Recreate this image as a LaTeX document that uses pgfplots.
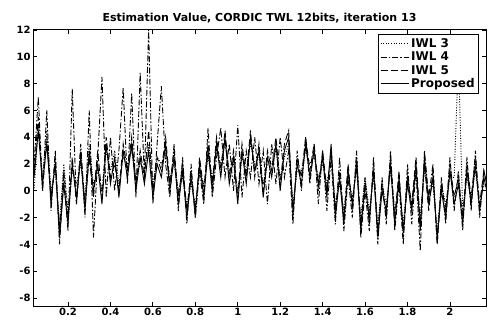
\documentclass[border=0pt]{standalone}
\usepackage{fontspec}
\setmainfont{DejaVu Sans}
\usepackage{pgfplots}
\pgfplotsset{compat=1.18}
\usepackage{pgfplotstable}
\pgfplotstableread{
x a b c d
0.04 0.0 2.0 1.5 1.0
0.06 5.0 7.0 5.5 4.5
0.08 1.0 0.0 0.0 0.5
0.10 4.5 6.0 4.0 3.5
0.12 0.0 -1.5 -1.0 -0.5
0.14 1.5 3.0 2.5 2.0
0.16 -2.5 -4.0 -3.0 -3.5
0.18 2.0 1.0 1.5 0.5
0.20 -1.5 -3.0 -2.0 -2.5
0.22 1.5 7.6 2.5 2.0
0.24 0.5 -1.0 -1.0 -0.5
0.26 2.0 3.5 3.0 2.5
0.28 -0.5 -2.0 -1.0 -1.5
0.30 3.5 6.0 2.5 3.0
0.32 0.5 -3.5 -0.5 0.0
0.34 1.5 2.5 3.0 2.0
0.36 0.0 8.5 -0.5 -1.0
0.38 3.0 -0.5 4.0 3.5
0.40 1.5 4.0 1.0 0.5
0.42 3.0 0.0 2.0 2.5
0.44 0.5 3.0 0.0 -0.5
0.46 2.5 7.7 3.5 3.0
0.48 2.0 0.5 1.5 1.0
0.50 3.0 7.3 4.0 3.5
0.52 1.0 -0.5 0.5 0.0
0.54 2.0 8.8 3.0 2.5
0.56 1.5 1.0 1.0 0.5
0.58 3.5 12.0 4.5 3.0
0.60 0.5 -1.0 0.0 -0.5
0.62 2.5 3.5 2.5 2.0
0.64 2.0 7.8 1.5 1.0
0.66 3.0 2.0 4.0 3.5
0.68 1.0 -0.5 0.5 0.0
0.70 2.0 3.5 3.0 2.5
0.72 0.0 -1.5 -0.5 -1.0
0.74 1.0 2.5 2.0 1.5
0.76 -1.0 -2.5 -1.5 -2.0
0.78 0.5 2.0 1.5 1.0
0.80 -1.0 -2.0 -2.0 -1.5
0.82 1.5 1.5 2.5 2.0
0.84 0.5 -1.0 0.0 -0.5
0.86 2.5 4.7 3.5 3.0
0.88 1.0 -0.5 0.5 0.0
0.90 3.0 2.5 4.0 3.5
0.92 2.0 4.7 1.5 1.0
0.94 3.5 1.0 4.5 4.0
0.96 1.5 3.5 1.0 0.5
0.98 2.0 0.0 3.0 2.5
1.00 0.0 4.9 -0.5 -1.0
1.02 2.5 -0.5 3.5 3.0
1.04 1.5 3.0 1.0 0.5
1.06 3.5 1.0 4.5 4.0
1.08 2.0 4.0 1.0 1.5
1.10 2.5 0.5 3.5 3.0
1.12 0.5 3.0 0.0 -0.5
1.14 2.0 -1.0 3.0 2.5
1.16 2.0 3.5 1.5 1.0
1.18 3.0 0.5 4.0 3.5
1.20 1.0 4.0 0.5 0.0
1.22 2.5 1.0 3.5 3.0
1.24 3.5 3.0 4.5 4.0
1.26 -1.0 -2.5 -2.0 -1.5
1.28 1.5 3.0 2.5 2.0
1.30 1.5 0.0 1.0 0.5
1.32 3.0 4.0 4.0 3.5
1.34 2.0 0.5 1.5 1.0
1.36 2.5 3.5 3.5 3.0
1.38 1.0 -1.0 0.0 0.5
1.40 2.0 3.0 3.0 2.5
1.42 0.5 -1.5 0.0 -0.5
1.44 2.5 2.5 3.0 3.5
1.46 -1.0 -2.5 -1.5 -2.0
1.48 0.5 2.5 1.5 1.0
1.50 -1.5 -3.0 -2.0 -2.5
1.52 1.0 1.0 2.0 1.5
1.54 -0.5 -2.0 -1.5 -1.0
1.56 1.5 3.0 2.5 2.0
1.58 -2.0 -3.5 -2.5 -3.0
1.60 1.0 0.0 1.0 0.5
1.62 -1.5 -3.0 -2.5 -2.0
1.64 1.0 2.5 2.0 1.5
1.66 -2.5 -4.0 -3.0 -3.5
1.68 0.5 1.0 0.5 0.0
1.70 -1.0 -2.5 -2.0 -1.5
1.72 1.5 3.0 2.5 2.0
1.74 -1.5 -3.0 -2.0 -2.5
1.76 0.5 0.5 1.5 1.0
1.78 -2.5 -4.0 -3.5 -3.0
1.80 1.0 2.0 1.0 0.5
1.82 -1.0 -2.5 -1.0 -1.5
1.84 1.5 1.5 2.5 2.0
1.86 -2.0 -4.5 -2.5 -3.0
1.88 1.5 3.0 2.0 2.5
1.90 -0.5 -0.5 -1.5 -1.0
1.92 0.5 2.0 1.5 1.0
1.94 -3.0 -4.0 -4.0 -3.5
1.96 0.5 1.0 0.5 0.0
1.98 -1.0 -2.5 -1.5 -2.0
2.00 1.0 2.5 2.0 1.5
2.02 1.0 -1.5 -0.5 -1.0
2.04 10.0 1.5 1.0 0.5
2.06 -1.5 -3.0 -2.0 -2.5
2.08 1.0 2.5 2.0 1.5
2.10 -0.5 -1.5 -0.5 -1.0
2.12 1.5 3.0 2.5 2.0
2.14 -1.0 -2.0 -1.0 -1.5
2.16 0.5 1.5 1.5 1.0
2.18 0.0 0.0 0.0 -0.5
}\data

\begin{document}
\begin{tikzpicture}
\begin{axis}[name=ax,
  scale only axis, width=453pt, height=276pt,
  xmin=0.035, xmax=2.17, ymin=-8.6, ymax=12,
  xtick={0.2,0.4,0.6,0.8,1,1.2,1.4,1.6,1.8,2},
  ytick={-8,-6,-4,-2,0,2,4,6,8,10,12},
  tick align=inside, major tick length=4pt,
  /pgf/number format/assume math mode=true,
  ticklabel style={font=\fontsize{10}{12}\selectfont\bfseries},
  xticklabel style={yshift=1pt},
  yticklabel style={xshift=1pt},
  title={Estimation Value, CORDIC TWL 12bits, iteration 13},
  title style={font=\fontsize{11}{13}\selectfont\bfseries, yshift=-3pt},
  axis line style={line width=1pt},
  every tick/.style={black, line width=0.8pt},
  legend style={at={(0.985,0.985)}, anchor=north east,
    font=\fontsize{12}{14}\selectfont\bfseries, draw=black, line width=1pt,
    inner sep=2pt, row sep=-1pt},
  legend cell align=left,
  legend image code/.code={\draw[#1] (0pt,0pt) -- (28pt,0pt);},
  every axis plot/.append style={black, line width=0.9pt},
  clip=true,
]
\addplot[dash pattern=on 1pt off 1.6pt] table[x=x,y=a] {\data};
\addlegendentry{IWL 3}
\addplot[dash pattern=on 6pt off 2pt on 1.5pt off 2pt] table[x=x,y=b] {\data};
\addlegendentry{IWL 4}
\addplot[dash pattern=on 7pt off 3pt] table[x=x,y=c] {\data};
\addlegendentry{IWL 5}
\addplot[solid] table[x=x,y=d] {\data};
\addlegendentry{Proposed}
\node[anchor=south west, inner sep=1pt, font=\fontsize{8.5}{10}\selectfont\bfseries] at (rel axis cs:0,1) {x 10\textsuperscript{-3}};
\end{axis}
\pgfresetboundingbox
\path[use as bounding box] ([shift={(-33pt,-26pt)}]ax.south west) rectangle ([shift={(2pt,30pt)}]ax.north east);
\end{tikzpicture}
\end{document}
